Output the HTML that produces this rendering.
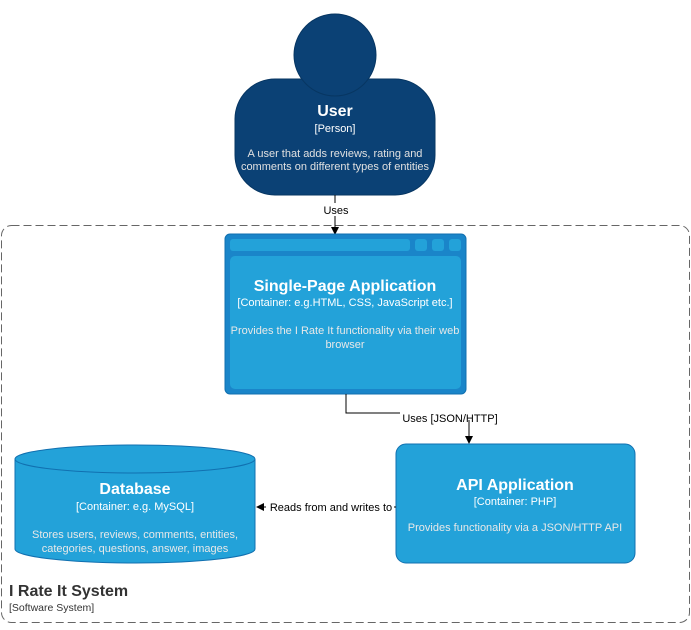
<!DOCTYPE html>
<html><head><style>body{margin:0;background:#fff}</style></head><body>
<svg width="691" height="625" xmlns="http://www.w3.org/2000/svg" font-family="Liberation Sans, Arial, sans-serif">
<rect x="1.5" y="225.5" width="688" height="397" rx="10" fill="none" stroke="#666" stroke-dasharray="8,4"/>
<text x="9" y="596" font-size="16" font-weight="bold" fill="#333">I Rate It System</text>
<text x="9" y="611" font-size="10.5" fill="#333">[Software System]</text>
<!-- user -->
<rect x="235" y="79" width="200" height="116" rx="40" fill="#0b4175" stroke="#073662"/>
<circle cx="335" cy="55" r="41" fill="#0b4175" stroke="#073662"/>
<g fill="#fff" text-anchor="middle">
<text x="335" y="116" font-size="16" font-weight="bold">User</text>
<text x="335" y="132" font-size="11">[Person]</text>
<text x="335" y="157" font-size="11" fill="#e0e0e0">A user that adds reviews, rating and</text>
<text x="335" y="170" font-size="11" fill="#e0e0e0">comments on different types of entities</text>
</g>
<line x1="335" y1="195" x2="335" y2="228" stroke="#000"/>
<rect x="320" y="203" width="30" height="13" fill="#fff"/>
<text x="336" y="214" font-size="11" text-anchor="middle">Uses</text>
<path d="M331 227 L335 235 L339 227 Z" fill="#000"/>
<!-- SPA -->
<rect x="225" y="234" width="241" height="160" rx="5" fill="#1a85c9" stroke="#1170b0"/>
<rect x="230" y="239" width="180" height="12" rx="3" fill="#23a2d9"/>
<rect x="415" y="239" width="12" height="12" rx="3" fill="#23a2d9"/>
<rect x="432" y="239" width="12" height="12" rx="3" fill="#23a2d9"/>
<rect x="449" y="239" width="12" height="12" rx="3" fill="#23a2d9"/>
<rect x="230" y="256" width="231" height="133" rx="5" fill="#23a2d9"/>
<g fill="#fff" text-anchor="middle">
<text x="345" y="291" font-size="16" font-weight="bold">Single-Page Application</text>
<text x="345" y="306" font-size="11">[Container: e.g.HTML, CSS, JavaScript etc.]</text>
<text x="345" y="334" font-size="11" fill="#e8e8e8">Provides the I Rate It functionality via their web</text>
<text x="345" y="348" font-size="11" fill="#e8e8e8">browser</text>
</g>
<path d="M346 394 V413 H469 V437" fill="none" stroke="#000"/>
<rect x="400" y="407" width="100" height="13" fill="#fff"/>
<text x="450" y="422" font-size="11" text-anchor="middle">Uses [JSON/HTTP]</text>
<path d="M465 436 L469 444 L473 436 Z" fill="#000"/>
<!-- API -->
<rect x="396" y="444" width="239" height="119" rx="10" fill="#23a2d9" stroke="#1170b0"/>
<g fill="#fff" text-anchor="middle">
<text x="515" y="490" font-size="16" font-weight="bold">API Application</text>
<text x="515" y="505" font-size="11">[Container: PHP]</text>
<text x="515" y="531" font-size="11" fill="#e8e8e8">Provides functionality via a JSON/HTTP API</text>
</g>
<!-- DB -->
<path d="M15 459 V549 A120 14 0 0 0 255 549 V459" fill="#23a2d9" stroke="#1170b0"/>
<ellipse cx="135" cy="459" rx="120" ry="14" fill="#23a2d9" stroke="#1170b0"/>
<g fill="#fff" text-anchor="middle">
<text x="135" y="494" font-size="16" font-weight="bold">Database</text>
<text x="135" y="510" font-size="11">[Container: e.g. MySQL]</text>
<text x="135" y="538" font-size="11" fill="#e8e8e8">Stores users, reviews, comments, entities,</text>
<text x="135" y="552" font-size="11" fill="#e8e8e8">categories, questions, answer, images</text>
</g>
<line x1="396" y1="507" x2="262" y2="507" stroke="#000"/>
<rect x="266" y="500" width="128" height="13" fill="#fff"/>
<text x="331" y="511" font-size="11" text-anchor="middle">Reads from and writes to</text>
<path d="M264 503 L256 507 L264 511 Z" fill="#000"/>
</svg>
</body></html>
